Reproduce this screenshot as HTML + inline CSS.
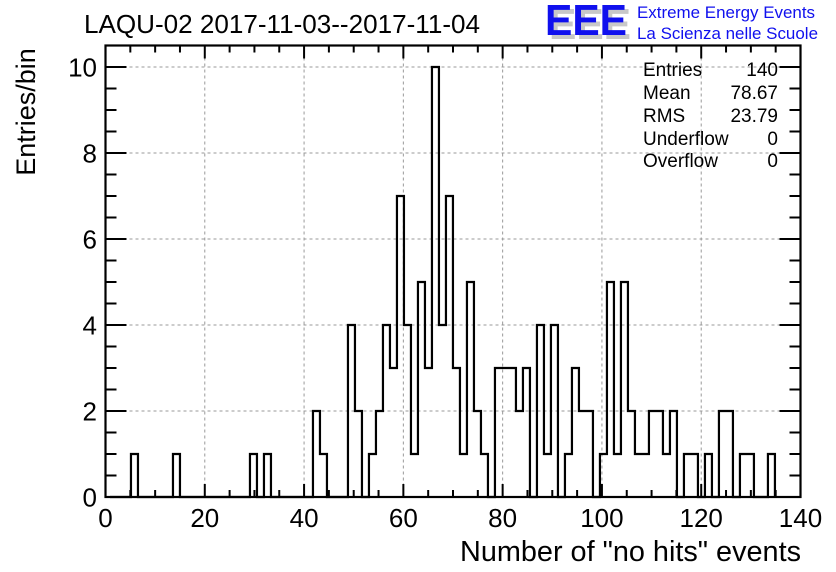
<!DOCTYPE html>
<html><head><meta charset="utf-8"><style>
html,body{margin:0;padding:0;background:#fff}
svg{display:block;font-family:"Liberation Sans",Arial,sans-serif}
</style></head><body>
<svg id="chart" width="836" height="572" viewBox="0 0 836 572" xmlns="http://www.w3.org/2000/svg">
<rect x="0" y="0" width="836" height="572" fill="#fff"/>
<g id="grid"></g>
<g id="hist"></g>
<g id="axes"></g>
<text x="84" y="33" font-size="25.5" fill="#000" textLength="396" lengthAdjust="spacingAndGlyphs">LAQU-02 2017-11-03--2017-11-04</text>
<g>
<text x="549" y="39" font-size="44" font-weight="bold" fill="#c8c8c8" textLength="82" lengthAdjust="spacingAndGlyphs">EEE</text>
<text x="545" y="35" font-size="44" font-weight="bold" fill="#1010ee" textLength="82" lengthAdjust="spacingAndGlyphs">EEE</text>
<text x="637" y="18" font-size="16.8" fill="#1010ee" textLength="178" lengthAdjust="spacingAndGlyphs">Extreme Energy Events</text>
<text x="637" y="39" font-size="16.8" fill="#1010ee" textLength="181" lengthAdjust="spacingAndGlyphs">La Scienza nelle Scuole</text>
</g>
<g font-size="19" fill="#000">
<text x="643" y="76">Entries</text><text x="778" y="76" text-anchor="end">140</text>
<text x="643" y="99">Mean</text><text x="778" y="99" text-anchor="end">78.67</text>
<text x="643" y="122">RMS</text><text x="778" y="122" text-anchor="end">23.79</text>
<text x="643" y="145">Underflow</text><text x="778" y="145" text-anchor="end">0</text>
<text x="643" y="167">Overflow</text><text x="778" y="167" text-anchor="end">0</text>
</g>
<text x="801" y="561" font-size="28.5" text-anchor="end" textLength="341" lengthAdjust="spacingAndGlyphs">Number of "no hits" events</text>
<text transform="translate(35,112) rotate(-90)" font-size="27" text-anchor="middle">Entries/bin</text>
</svg>
<script>
// data
const binStart = 0.9;      // lower edge of first bin (data units)
const binWidth = 1.41;     // bin width (data units)
const counts = [
0,0,0,1,0,0,0,0,0,1,0,0,0,0,0,0,0,0,0,0,1,0,1,0,0,0,0,0,0,2,1,0,0,0,
4,2,0,1,2,4,3,7,
4,1,5,3,10,4,7,3,1,5,2,1,0,
3,3,3,2,3,0,4,1,4,0,1,3,2,2,0,
1,5,1,5,2,1,1,2,2,1,2,0,1,1,0,1,0,2,2,0,1,1,0,0,1
];
const xTicks = [0,20,40,60,80,100,120,140];
const yTicks = [0,2,4,6,8,10];
// axes geometry
const X0=105.5, X1=800.5, Y0=497, Y1=45.5;
const xMin=0,xMax=140,yMin=0,yMax=10.5;
const sx=v=>X0+(v-xMin)/(xMax-xMin)*(X1-X0);
const sy=v=>Y0-(v-yMin)/(yMax-yMin)*(Y0-Y1);
const NS="http://www.w3.org/2000/svg";
function mk(tag,attrs,parent){const e=document.createElementNS(NS,tag);for(const k in attrs)e.setAttribute(k,attrs[k]);parent.appendChild(e);return e;}
const grid=document.getElementById('grid'),hist=document.getElementById('hist'),axes=document.getElementById('axes');
// grid
xTicks.forEach(t=>{if(t===xMin||t===xMax)return;const l=mk('line',{x1:sx(t),x2:sx(t),y1:Y1,y2:Y0,stroke:'#999','stroke-dasharray':'3,3','stroke-width':1},grid);

});
yTicks.forEach(t=>{if(t===yMin)return;const l=mk('line',{x1:X0,x2:X1,y1:sy(t),y2:sy(t),stroke:'#999','stroke-dasharray':'3,3','stroke-width':1},grid);

});
// histogram step path
let d='M'+sx(binStart)+','+sy(0);
counts.forEach((c,i)=>{const lo=binStart+i*binWidth,hi=lo+binWidth;d+=' L'+sx(lo)+','+sy(c)+' L'+sx(hi)+','+sy(c);});
d+=' L'+sx(binStart+counts.length*binWidth)+','+sy(0);
const p=mk('path',{d:d,fill:'none',stroke:'#000','stroke-width':2.2},hist);


// frame
const fr=mk('rect',{x:X0,y:Y1,width:X1-X0,height:Y0-Y1,fill:'none',stroke:'#000','stroke-width':2.2},axes);


// x ticks
for(let v=xMin;v<=xMax;v+=5){const major=(v%20===0);const len=major?13:7;
mk('line',{x1:sx(v),x2:sx(v),y1:Y0,y2:Y0-len,stroke:'#000','stroke-width':2},axes);
mk('line',{x1:sx(v),x2:sx(v),y1:Y1,y2:Y1+len,stroke:'#000','stroke-width':2},axes);}
xTicks.forEach(t=>{const tx=mk('text',{x:sx(t),y:527,'font-size':26,'text-anchor':'middle'},axes);tx.textContent=t;

});
// y ticks
for(let v=0;v<=10.5;v+=0.5){const major=(Math.abs(v%2)<1e-9);const len=major?21:11;
mk('line',{x1:X0,x2:X0+len,y1:sy(v),y2:sy(v),stroke:'#000','stroke-width':2},axes);
mk('line',{x1:X1,x2:X1-len,y1:sy(v),y2:sy(v),stroke:'#000','stroke-width':2},axes);}
yTicks.forEach(t=>{const tx=mk('text',{x:97,y:sy(t)+9.5,'font-size':26,'text-anchor':'end'},axes);tx.textContent=t;

});
</script>
</body></html>
